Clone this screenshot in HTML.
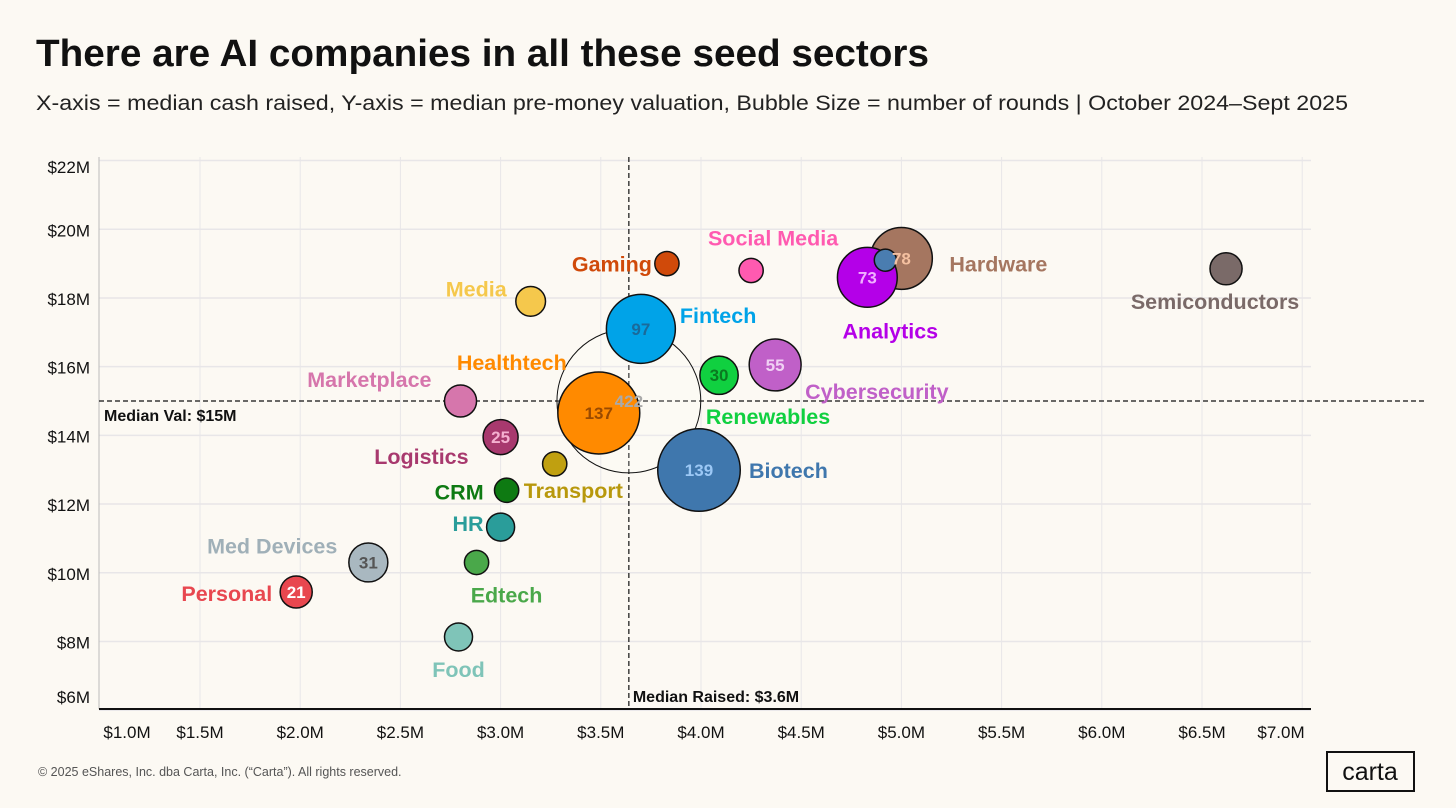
<!DOCTYPE html>
<html><head><meta charset="utf-8"><style>
body{margin:0;background:#fcf9f3;width:1456px;height:808px;overflow:hidden;font-family:"Liberation Sans",sans-serif}
svg{position:absolute;left:0;top:0}
</style></head><body>
<svg id="c" width="1456" height="808">
<text x="36" y="66" font-size="38" font-weight="bold" fill="#111" textLength="893" lengthAdjust="spacingAndGlyphs">There are AI companies in all these seed sectors</text>
<text x="36" y="110" font-size="21" fill="#222" textLength="1312" lengthAdjust="spacingAndGlyphs">X-axis = median cash raised, Y-axis = median pre-money valuation, Bubble Size = number of rounds  |  October 2024–Sept 2025</text>
<g id="grid"></g>
<g id="axes"></g>
<g id="bubbles"></g>
<text x="38" y="776" font-size="12.5" fill="#555">© 2025 eShares, Inc. dba Carta, Inc. (“Carta”). All rights reserved.</text>
<rect x="1327" y="752" width="87" height="39" fill="none" stroke="#111" stroke-width="2"/>
<text x="1370" y="780" font-size="25" text-anchor="middle" fill="#111">carta</text>
</svg>
<script>
const sectors=["Personal","Med Devices","Food","Edtech","HR","CRM","Transport","Logistics","Marketplace","Media","Gaming","Healthtech","Fintech","All","Biotech","Renewables","Cybersecurity","Social Media","Hardware","Analytics","Other","Semiconductors"];
const raised=[1.98,2.34,2.79,2.88,3.0,3.03,3.27,3.0,2.8,3.15,3.83,3.49,3.70,3.64,3.99,4.09,4.37,4.25,5.0,4.83,4.92,6.62];
const valuation=[9.44,10.3,8.13,10.3,11.33,12.4,13.17,13.95,15.0,17.9,19.0,14.65,17.1,15.0,12.99,15.75,16.05,18.8,19.15,18.6,19.1,18.85];
const rounds=[21,31,16,12,16,12,12,25,21,18,12,137,97,422,139,30,55,12,78,73,10,21];
const showCount=[1,1,0,0,0,0,0,1,0,0,0,1,1,1,1,1,1,0,1,1,0,0];
const colors=["#e8474f","#a9b8c0","#7fc4b8","#4aa84a","#2a9d9a","#0e7a12","#c0a010","#a8396e","#d676ac","#f5c84c","#d04a0a","#ff8a00","#00a3e8","none","#3f77ad","#10d040","#c060c8","#ff5ab0","#a57660","#b400e8","#4a7db0","#7a6a68"];
const numColors=["#fff","#555","#fff","#fff","#fff","#fff","#fff","#f4b0d0","#fff","#fff","#fff","#9a4a00","#1a6a9a","#aaa","#9cc8f5","#0a7a20","#f0d0f4","#fff","#f4c0a0","#f0b0ff","#fff","#fff"];
const labelColors=["#e8474f","#a0b0b8","#7fc4b8","#4aa84a","#2a9d9a","#0e7a12","#b8980c","#a8396e","#d676ac","#f5c84c","#d04a0a","#ff8a00","#00a3e8","","#3f77ad","#10d040","#c060c8","#ff5ab0","#a57660","#b400e8","","#7a6a68"];
// label offsets relative to bubble centre [dx,dy,anchor]
const labelPos=[[-24,9,"end"],[-31,-9,"end"],[0,40,"middle"],[30,40,"middle"],[-17,4,"end"],[-23,9,"end"],[-31,34,"start"],[-32,27,"end"],[-29,-14,"end"],[-24,-5,"end"],[-15,8,"end"],[-87,-43,"middle"],[39,-6,"start"],[0,0,""],[50,8,"start"],[49,49,"middle"],[30,34,"start"],[22,-25,"middle"],[48,13,"start"],[23,61,"middle"],[0,0,""],[-11,40,"middle"]];
const xTicks=[1.0,1.5,2.0,2.5,3.0,3.5,4.0,4.5,5.0,5.5,6.0,6.5,7.0];
const xTickLabels=["$1.0M","$1.5M","$2.0M","$2.5M","$3.0M","$3.5M","$4.0M","$4.5M","$5.0M","$5.5M","$6.0M","$6.5M","$7.0M"];
const yTicks=[6,8,10,12,14,16,18,20,22];
const yTickLabels=["$6M","$8M","$10M","$12M","$14M","$16M","$18M","$20M","$22M"];
const medianRaised=3.64, medianVal=15;

const X=v=>200+(v-1.5)*200.4;
const Y=v=>401-(v-15)*34.35;
const R=n=>3.5*Math.sqrt(n);
const NS="http://www.w3.org/2000/svg";
function mk(p,t,a){const e=document.createElementNS(NS,t);for(const k in a)e.setAttribute(k,a[k]);p.appendChild(e);return e;}
const grid=document.getElementById('grid'),axes=document.getElementById('axes'),bub=document.getElementById('bubbles');
const L=99,Rt=1311,T=157,B=709;
xTicks.forEach((v,i)=>{
 const x=X(v);
 if(x>L+2){const g=mk(grid,'line',{x1:x,x2:x,y1:T,y2:B,stroke:'#e8e6e8','stroke-width':1});
 
 }
 let lx=Math.min(Math.max(x,127),1281);
 const t=mk(axes,'text',{x:lx,y:738,'font-size':17,'text-anchor':'middle',fill:'#111'});t.textContent=xTickLabels[i];
 
 
});
yTicks.forEach((v,i)=>{
 const y=Y(v);
 const g=mk(grid,'line',{x1:L,x2:Rt,y1:y,y2:y,stroke:'#e8e6e8','stroke-width':1.5});
 
 
 const ly=Math.min(Math.max(y,166),696);
 const t=mk(axes,'text',{x:90,y:ly+7,'font-size':17,'text-anchor':'end',fill:'#111'});t.textContent=yTickLabels[i];
 
 
});
let a=mk(axes,'line',{x1:L,x2:L,y1:T,y2:B,stroke:'#bbb','stroke-width':1});


a=mk(axes,'line',{x1:L,x2:Rt,y1:B,y2:B,stroke:'#111','stroke-width':2});


sectors.forEach((s,i)=>{
 const cx=X(raised[i]),cy=Y(valuation[i]),r=R(rounds[i]);
 const c=mk(bub,'circle',{cx,cy,r,fill:colors[i]==='none'?'rgba(255,255,255,0.15)':colors[i],stroke:'#111','stroke-width':s==='All'?1:1.5});
 
 
 if(s==='All'){bub.insertBefore(c,bub.firstChild);}
});
sectors.forEach((s,i)=>{
 const cx=X(raised[i]),cy=Y(valuation[i]);
 if(showCount[i]){
  const t=mk(bub,'text',{x:cx,y:cy+6,'font-size':17,'font-weight':'bold','text-anchor':'middle',fill:numColors[i]});t.textContent=rounds[i];
  
  
 }
 if(labelColors[i]){
  const p=labelPos[i];
  const t=mk(bub,'text',{x:cx+p[0],y:cy+p[1],'font-size':21.5,'font-weight':'bold','text-anchor':p[2],fill:labelColors[i]});t.textContent=s;
  
  
 }
});
const mx=X(medianRaised),my=Y(medianVal);
a=mk(axes,'line',{x1:mx,x2:mx,y1:T,y2:B,stroke:'#111','stroke-width':1.2,'stroke-dasharray':'5,3'});


a=mk(axes,'line',{x1:L,x2:1424,y1:my,y2:my,stroke:'#111','stroke-width':1.2,'stroke-dasharray':'5,3'});


let t=mk(axes,'text',{x:104,y:my+20,'font-size':16,'font-weight':'bold',fill:'#111'});t.textContent='Median Val: $15M';


t=mk(axes,'text',{x:mx+4,y:702,'font-size':16,'font-weight':'bold',fill:'#111'});t.textContent='Median Raised: $3.6M';


</script>
</body></html>
